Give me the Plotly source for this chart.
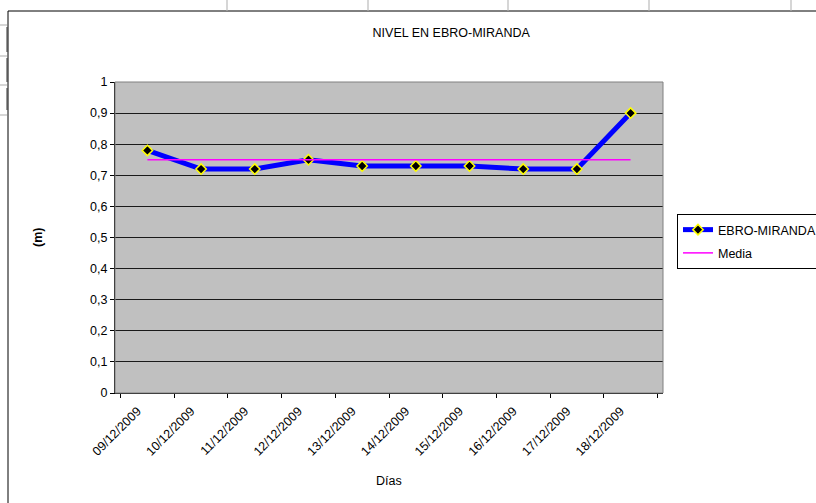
import plotly.graph_objects as go

dias = ["09/12/2009", "10/12/2009", "11/12/2009", "12/12/2009", "13/12/2009",
        "14/12/2009", "15/12/2009", "16/12/2009", "17/12/2009", "18/12/2009"]
nivel = [0.78, 0.72, 0.72, 0.75, 0.73, 0.73, 0.73, 0.72, 0.72, 0.90]
media = [0.75] * len(dias)
y_ticks = [0, 0.1, 0.2, 0.3, 0.4, 0.5, 0.6, 0.7, 0.8, 0.9, 1]
y_ticktext = ["0", "0,1", "0,2", "0,3", "0,4", "0,5", "0,6", "0,7", "0,8", "0,9", "1"]

W, H = 816, 503
L, R, T, B = 115, 663, 82, 393
pw, ph = R - L, B - T


def px(x):
    return (x - L) / pw


def py(y):
    return (B - y) / ph


FONT = "Liberation Sans, Arial, sans-serif"
FS = 12.5

fig = go.Figure()
fig.add_trace(go.Scatter(
    x=dias, y=nivel, name="EBRO-MIRANDA", mode="lines+markers",
    line=dict(color="#0000FF", width=5),
    marker=dict(symbol="diamond", size=8, color="#000000",
                line=dict(color="#FFFF00", width=1.5)),
    legendgroup="a",
))
fig.add_trace(go.Scatter(
    x=dias, y=media, name="Media", mode="lines",
    line=dict(color="#FF00FF", width=1.5),
    legendgroup="b",
))

shapes = []
# chart outer border
shapes.append(dict(type="rect", xref="paper", yref="paper",
                   x0=px(8), x1=px(830), y0=py(520), y1=py(11),
                   line=dict(color="#000000", width=1), layer="below"))
# spreadsheet grid remnants above the chart
for gx in [227, 368, 508, 649, 791]:
    shapes.append(dict(type="line", xref="paper", yref="paper",
                       x0=px(gx), x1=px(gx), y0=py(0), y1=py(10.5),
                       line=dict(color="#C8C8C8", width=1.5)))
for gy in [25, 56, 85, 115]:
    shapes.append(dict(type="line", xref="paper", yref="paper",
                       x0=px(0), x1=px(7), y0=py(gy), y1=py(gy),
                       line=dict(color="#C8C8C8", width=1.5)))
for y0, y1 in [(27, 52), (58, 82), (88, 110)]:
    shapes.append(dict(type="line", xref="paper", yref="paper",
                       x0=px(7), x1=px(7), y0=py(y0), y1=py(y1),
                       line=dict(color="#333333", width=1)))
# plot area border (top / right gray)
shapes.append(dict(type="rect", xref="paper", yref="paper",
                   x0=0, x1=1, y0=0, y1=1,
                   line=dict(color="#808080", width=1), layer="above"))

fig.update_layout(
    width=W, height=H,
    margin=dict(l=L, r=W - R, t=T, b=H - B, pad=0, autoexpand=False),
    paper_bgcolor="white", plot_bgcolor="#C0C0C0",
    font=dict(family=FONT, size=FS, color="#000000"),
    title=dict(text="NIVEL EN EBRO-MIRANDA", x=px(418), xanchor="center",
               y=1 - 33 / H, yanchor="middle", yref="container",
               font=dict(family=FONT, size=FS, color="#000000")),
    showlegend=True,
    legend=dict(x=px(677), y=py(214), xanchor="left", yanchor="top",
                bgcolor="white", bordercolor="#000000", borderwidth=1,
                font=dict(family=FONT, size=FS, color="#000000"),
                tracegroupgap=4, itemwidth=30),
    shapes=shapes,
    annotations=[
        dict(text="<b>(m)</b>", xref="paper", yref="paper", x=px(38), y=py(238),
             showarrow=False, textangle=-90, font=dict(family=FONT, size=FS),
             xanchor="center", yanchor="middle"),
        dict(text="Días", xref="paper", yref="paper", x=px(389), y=py(481),
             showarrow=False, font=dict(family=FONT, size=FS),
             xanchor="center", yanchor="middle"),
    ],
)
fig.update_xaxes(
    type="category", tickangle=-45, tickson="boundaries",
    ticks="outside", ticklen=4, tickcolor="#000000",
    ticklabelshift=-10, ticklabelstandoff=5,
    showline=True, linecolor="#000000", linewidth=1,
    showgrid=False, zeroline=False, automargin=False,
    tickfont=dict(family=FONT, size=FS, color="#000000"),
)
fig.update_yaxes(
    range=[0, 1], tickvals=y_ticks, ticktext=y_ticktext,
    ticks="outside", ticklen=4, tickcolor="#000000",
    showline=True, linecolor="#000000", linewidth=1,
    showgrid=True, gridcolor="#1a1a1a", gridwidth=1, zeroline=False,
    automargin=False,
    tickfont=dict(family=FONT, size=FS, color="#000000"),
)

fig.write_html("out.html",
               config={"displayModeBar": False},
               post_script="document.body.style.margin='0';"
                           "document.body.style.overflow='hidden';")
